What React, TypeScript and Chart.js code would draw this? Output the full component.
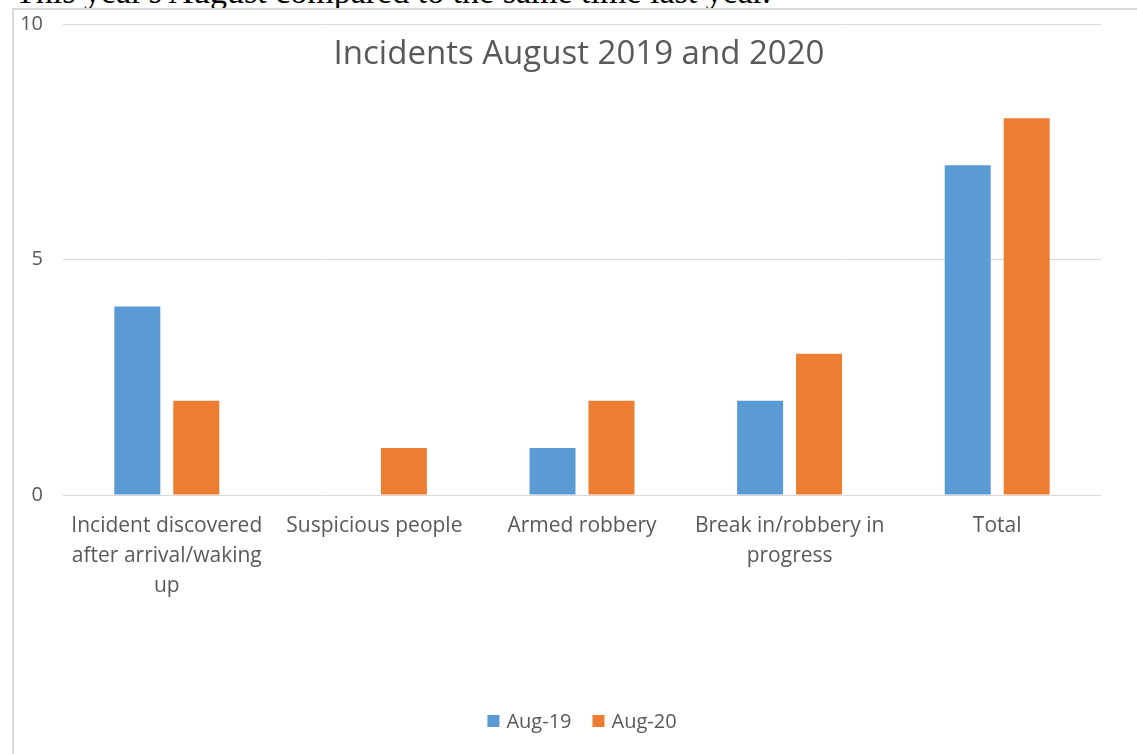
import React, { useEffect, useRef } from "react";
import { Chart, registerables } from "chart.js";

Chart.register(...registerables);

const categories: (string | string[])[] = [
  ["Incident discovered", "after arrival/waking", "up"],
  "Suspicious people",
  "Armed robbery",
  ["Break in/robbery in", "progress"],
  "Total",
];
const aug19: number[] = [4, 0, 1, 2, 7];
const aug20: number[] = [2, 1, 2, 3, 8];
const seriesNames: string[] = ["Aug-19", "Aug-20"];
const seriesColors: string[] = ["#5B9BD5", "#ED7D31"];
const yTicks: number[] = [0, 5, 10];
const titleText = "Incidents August 2019 and 2020";
const introText = "This year's August compared to the same time last year.";

const FONT = "'Open Sans', Lato, sans-serif";
const TEXT = "#595959";

const overlayPlugin = {
  id: "overlay",
  afterDraw(chart: any) {
    const ctx = chart.ctx;
    const area = chart.chartArea;
    ctx.save();
    // title
    ctx.fillStyle = TEXT;
    ctx.font = `33px ${FONT}`;
    ctx.textAlign = "center";
    ctx.textBaseline = "middle";
    ctx.fillText(titleText, (area.left + area.right) / 2 - 3, 45);
    // legend
    ctx.font = `20px ${FONT}`;
    const box = 12;
    const gapBT = 7;
    const gapItems = 21;
    const widths = seriesNames.map((n) => ctx.measureText(n).width);
    const total = widths.reduce((s, w) => s + box + gapBT + w, 0) + gapItems * (seriesNames.length - 1);
    let x = (area.left + area.right) / 2 - total / 2;
    const y = 711;
    ctx.textAlign = "left";
    seriesNames.forEach((n, i) => {
      ctx.fillStyle = seriesColors[i];
      ctx.fillRect(x, y - box / 2, box, box);
      x += box + gapBT;
      ctx.fillStyle = TEXT;
      ctx.fillText(n, x, y + 1);
      x += widths[i] + gapItems;
    });
    ctx.restore();
  },
};

export default function App() {
  const ref = useRef<HTMLCanvasElement>(null);
  useEffect(() => {
    if (!ref.current) return;
    const chart = new Chart(ref.current, {
      type: "bar",
      data: {
        labels: categories,
        datasets: [
          { label: seriesNames[0], data: aug19, backgroundColor: seriesColors[0] },
          { label: seriesNames[1], data: aug20, backgroundColor: seriesColors[1] },
        ],
      },
      options: {
        animation: false,
        responsive: true,
        maintainAspectRatio: false,
        datasets: { bar: { categoryPercentage: 0.568, barPercentage: 0.78 } },
        layout: { padding: { left: 0, right: 36, top: 14, bottom: 0 } },
        plugins: { legend: { display: false }, title: { display: false }, tooltip: { enabled: false } },
        scales: {
          x: {
            grid: { display: false, drawTicks: false },
            border: { display: false },
            ticks: {
              color: TEXT,
              font: { family: FONT, size: 21, lineHeight: 30 / 21 },
              padding: 16,
              maxRotation: 0,
              autoSkip: false,
            },
            afterFit: (s: any) => {
              s.height = 259;
              s.paddingTop = 0;
              s.paddingBottom = 0;
            },
          },
          y: {
            min: 0,
            max: 10,
            grid: { color: "#D9D9D9", lineWidth: 1, drawTicks: false },
            border: { display: false },
            afterBuildTicks: (s: any) => {
              s.ticks = yTicks.map((v) => ({ value: v }));
            },
            ticks: {
              color: TEXT,
              font: { family: FONT, size: 20 },
              padding: 20,
            },
            afterFit: (s: any) => {
              s.width = 49;
              s.paddingTop = 0;
              s.paddingBottom = 0;
            },
          },
        },
      },
      plugins: [overlayPlugin],
    });
    return () => chart.destroy();
  }, []);

  return (
    <div
      style={{
        position: "fixed",
        left: 0,
        top: 0,
        width: 1137,
        height: 754,
        overflow: "hidden",
        background: "#fff",
      }}
    >
      <div
        style={{
          position: "absolute",
          left: 15,
          top: -27,
          fontFamily: "'Liberation Serif', 'Times New Roman', serif",
          fontSize: 34,
          color: "#000",
          whiteSpace: "nowrap",
        }}
      >
        {introText}
      </div>
      <div
        style={{
          position: "absolute",
          left: 12,
          top: 8,
          width: 1125,
          height: 746,
          borderLeft: "2px solid #D9D9D9",
          borderTop: "2px solid #D9D9D9",
          background: "#fff",
        }}
      >
        <div style={{ position: "relative", width: 1123, height: 744 }}>
          <canvas ref={ref} />
        </div>
      </div>
    </div>
  );
}
